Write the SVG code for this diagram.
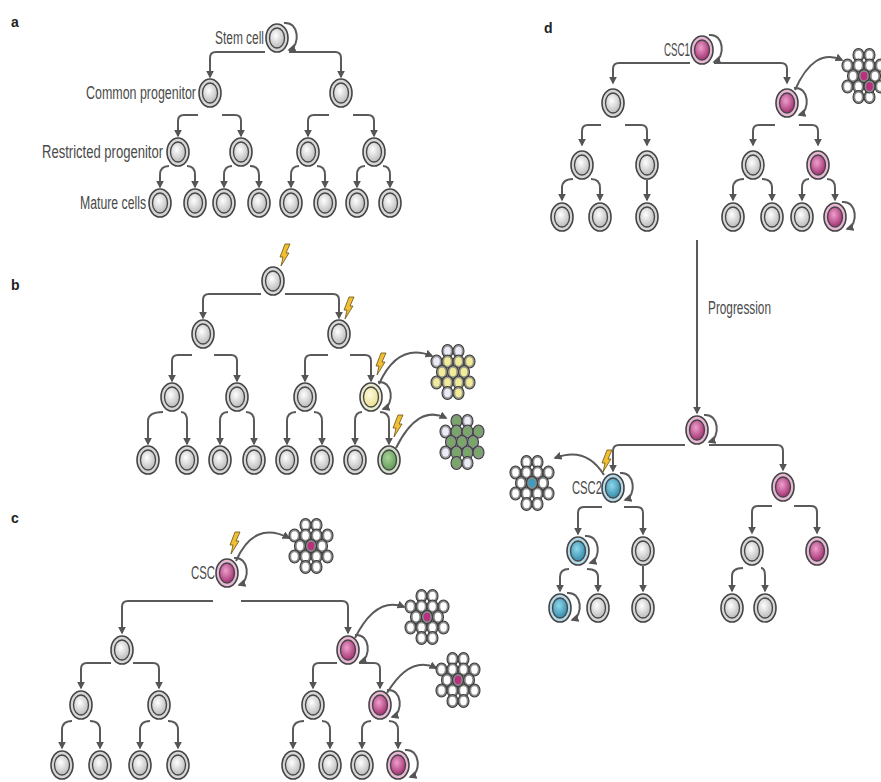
<svg xmlns="http://www.w3.org/2000/svg" xmlns:xlink="http://www.w3.org/1999/xlink" width="881" height="782" viewBox="0 0 881 782">
<style>
  .ln { fill: none; stroke: #5a5a5a; stroke-width: 2; }
  .lbl { font-family: "Liberation Sans Narrow", "Liberation Sans", Arial, sans-serif; font-size: 18px; fill: #4a4a4a; }
  .pl { font-family: "Liberation Sans", Arial, sans-serif; font-size: 14px; font-weight: bold; fill: #222; }
</style>
<defs>
  <marker id="ah" viewBox="0 0 10 10" refX="8" refY="5" markerWidth="8" markerHeight="8" markerUnits="userSpaceOnUse" orient="auto">
    <path d="M0,0 L10,5 L0,10 z" fill="#555"/>
  </marker>
  <radialGradient id="gGray" cx="0.42" cy="0.38" r="0.7"><stop offset="0" stop-color="#ffffff"/><stop offset="1" stop-color="#b3b3b3"/></radialGradient>
  <radialGradient id="gMag" cx="0.42" cy="0.38" r="0.7"><stop offset="0" stop-color="#ee9fcc"/><stop offset="1" stop-color="#9c2468"/></radialGradient>
  <radialGradient id="gBlue" cx="0.42" cy="0.38" r="0.7"><stop offset="0" stop-color="#8fd8ea"/><stop offset="1" stop-color="#2a83a6"/></radialGradient>
  <radialGradient id="gYel" cx="0.42" cy="0.38" r="0.7"><stop offset="0" stop-color="#fffbe0"/><stop offset="1" stop-color="#e6dc84"/></radialGradient>
  <radialGradient id="gGrn" cx="0.42" cy="0.38" r="0.7"><stop offset="0" stop-color="#a8d498"/><stop offset="1" stop-color="#5a944f"/></radialGradient>

  <!-- full-size cells -->
  <g id="cg"><ellipse rx="11" ry="14" fill="#d6d6d6" stroke="#454545" stroke-width="1.6"/><ellipse rx="7.5" ry="10" fill="url(#gGray)" stroke="#454545" stroke-width="1.3"/></g>
  <g id="cm"><ellipse rx="11" ry="14" fill="#e8b7d5" stroke="#454545" stroke-width="1.6"/><ellipse rx="7.5" ry="10" fill="url(#gMag)" stroke="#454545" stroke-width="1.3"/></g>
  <g id="cb"><ellipse rx="11" ry="14" fill="#b3d9e8" stroke="#454545" stroke-width="1.6"/><ellipse rx="7.5" ry="10" fill="url(#gBlue)" stroke="#454545" stroke-width="1.3"/></g>
  <g id="cy"><ellipse rx="11" ry="14" fill="#ecebcf" stroke="#454545" stroke-width="1.6"/><ellipse rx="7.5" ry="10" fill="url(#gYel)" stroke="#454545" stroke-width="1.3"/></g>
  <g id="cgr"><ellipse rx="11" ry="14" fill="#cfdfc8" stroke="#454545" stroke-width="1.6"/><ellipse rx="7.5" ry="10" fill="url(#gGrn)" stroke="#454545" stroke-width="1.3"/></g>

  <!-- small tumour-mass cells -->
  <g id="sw"><ellipse rx="5.5" ry="6.5" fill="#8a8a8a" stroke="#3c3c3c" stroke-width="1.1"/><ellipse rx="3.3" ry="4.2" fill="#ffffff"/></g>
  <g id="sm"><ellipse rx="5.5" ry="6.5" fill="#8a8a8a" stroke="#3c3c3c" stroke-width="1.1"/><ellipse rx="3.3" ry="4.2" fill="#b8307e"/></g>
  <g id="sb"><ellipse rx="5.5" ry="6.5" fill="#8a8a8a" stroke="#3c3c3c" stroke-width="1.1"/><ellipse rx="3.3" ry="4.2" fill="#3a9ec2"/></g>
  <g id="sy"><ellipse rx="5.5" ry="6.5" fill="#9a9a8a" stroke="#3c3c3c" stroke-width="1.1"/><ellipse rx="3.3" ry="4.2" fill="#f2eb9a"/></g>
  <g id="sl"><ellipse rx="5.5" ry="6.5" fill="#9a9a9a" stroke="#3c3c3c" stroke-width="1.1"/><ellipse rx="3.3" ry="4.2" fill="#ececf8"/></g>
  <g id="sg"><ellipse rx="5.5" ry="6.5" fill="#8a948a" stroke="#3c3c3c" stroke-width="1.1"/><ellipse rx="3.3" ry="4.2" fill="#76a866"/></g>

  <!-- grey tumour mass, centred on 0,0 -->
  <g id="mass">
    <use href="#sw" x="-5.5" y="-21"/><use href="#sw" x="5.5" y="-21"/>
    <use href="#sw" x="-16.5" y="-10.5"/><use href="#sw" x="-5.5" y="-10.5"/><use href="#sw" x="5.5" y="-10.5"/><use href="#sw" x="16.5" y="-10.5"/>
    <use href="#sw" x="-11" y="0"/><use href="#sw" x="0" y="0"/><use href="#sw" x="11" y="0"/>
    <use href="#sw" x="-16.5" y="10.5"/><use href="#sw" x="-5.5" y="10.5"/><use href="#sw" x="5.5" y="10.5"/><use href="#sw" x="16.5" y="10.5"/>
    <use href="#sw" x="-5.5" y="21"/><use href="#sw" x="5.5" y="21"/>
  </g>

  <!-- self-renewal loop and mutation bolt -->
  <path id="loop" d="M7,-15 C22,-17 24,8 12,12" fill="none" stroke="#5a5a5a" stroke-width="2" marker-end="url(#ah)"/>
  <polygon id="bolt" points="0,0 2,-9 -1,-9 4,-22 9,-22 5,-13 8,-13" fill="#f0bf34" stroke="#6b5214" stroke-width="0.8" stroke-linejoin="round"/>
</defs>

<rect width="881" height="782" fill="#ffffff"/>

<!-- panel letters and labels -->
<g id="labels">
  <text class="pl" x="11" y="27">a</text>
  <text class="pl" x="11" y="290">b</text>
  <text class="pl" x="11" y="523">c</text>
  <text class="pl" x="544" y="33">d</text>
  <text class="lbl" x="215" y="44" textLength="49" lengthAdjust="spacingAndGlyphs">Stem cell</text>
  <text class="lbl" x="86" y="99" textLength="110" lengthAdjust="spacingAndGlyphs">Common progenitor</text>
  <text class="lbl" x="42" y="158" textLength="121" lengthAdjust="spacingAndGlyphs">Restricted progenitor</text>
  <text class="lbl" x="80" y="209" textLength="66" lengthAdjust="spacingAndGlyphs">Mature cells</text>
  <text class="lbl" x="191" y="579" textLength="24" lengthAdjust="spacingAndGlyphs">CSC</text>
  <text class="lbl" x="664" y="56" textLength="26" lengthAdjust="spacingAndGlyphs">CSC1</text>
  <text class="lbl" x="572" y="494" textLength="30" lengthAdjust="spacingAndGlyphs">CSC2</text>
  <text class="lbl" x="708" y="314" textLength="63" lengthAdjust="spacingAndGlyphs">Progression</text>
</g>

<g id="connectors">
  <!-- a -->
  <path class="ln" marker-end="url(#ah)" d="M265,52 H216 Q210,52 210,58 V77"/>
  <path class="ln" marker-end="url(#ah)" d="M289,52 H335 Q341,52 341,58 V77"/>
  <path class="ln" marker-end="url(#ah)" d="M198,115 H184 Q178,115 178,121 V136"/>
  <path class="ln" marker-end="url(#ah)" d="M222,115 H235 Q241,115 241,121 V136"/>
  <path class="ln" marker-end="url(#ah)" d="M329,115 H314 Q308,115 308,121 V136"/>
  <path class="ln" marker-end="url(#ah)" d="M353,115 H368 Q374,115 374,121 V136"/>
  <path class="ln" marker-end="url(#ah)" d="M169,166 Q160,166 160,175 V187"/>
  <path class="ln" marker-end="url(#ah)" d="M187,166 Q195,166 195,175 V187"/>
  <path class="ln" marker-end="url(#ah)" d="M232,166 Q224,166 224,175 V187"/>
  <path class="ln" marker-end="url(#ah)" d="M250,166 Q259,166 259,175 V187"/>
  <path class="ln" marker-end="url(#ah)" d="M299,166 Q291,166 291,175 V187"/>
  <path class="ln" marker-end="url(#ah)" d="M317,166 Q325,166 325,175 V187"/>
  <path class="ln" marker-end="url(#ah)" d="M365,166 Q357,166 357,175 V187"/>
  <path class="ln" marker-end="url(#ah)" d="M383,166 Q390,166 390,175 V187"/>
  <use href="#loop" x="277" y="38"/>

  <!-- b -->
  <path class="ln" marker-end="url(#ah)" d="M261,294 H209 Q203,294 203,300 V318"/>
  <path class="ln" marker-end="url(#ah)" d="M285,294 H333 Q339,294 339,300 V318"/>
  <path class="ln" marker-end="url(#ah)" d="M192,355 H178 Q172,355 172,361 V381"/>
  <path class="ln" marker-end="url(#ah)" d="M214,355 H231 Q237,355 237,361 V381"/>
  <path class="ln" marker-end="url(#ah)" d="M328,355 H311 Q305,355 305,361 V381"/>
  <path class="ln" marker-end="url(#ah)" d="M350,355 H365 Q371,355 371,361 V381"/>
  <path class="ln" marker-end="url(#ah)" d="M163,412 Q148,412 148,421 V444"/>
  <path class="ln" marker-end="url(#ah)" d="M181,412 Q187,412 187,421 V444"/>
  <path class="ln" marker-end="url(#ah)" d="M228,412 Q220,412 220,421 V444"/>
  <path class="ln" marker-end="url(#ah)" d="M246,412 Q254,412 254,421 V444"/>
  <path class="ln" marker-end="url(#ah)" d="M296,412 Q287,412 287,421 V444"/>
  <path class="ln" marker-end="url(#ah)" d="M314,412 Q322,412 322,421 V444"/>
  <path class="ln" marker-end="url(#ah)" d="M362,412 Q355,412 355,421 V444"/>
  <path class="ln" marker-end="url(#ah)" d="M380,412 Q389,412 389,421 V444"/>
  <use href="#loop" x="371" y="397"/>
  <path class="ln" marker-end="url(#ah)" d="M379,384 Q398,342 432,356"/>
  <path class="ln" marker-end="url(#ah)" d="M396,448 Q418,404 446,418"/>

  <!-- c -->
  <path class="ln" marker-end="url(#ah)" d="M213,601 H128 Q122,601 122,607 V633"/>
  <path class="ln" marker-end="url(#ah)" d="M241,601 H342 Q348,601 348,607 V633"/>
  <path class="ln" marker-end="url(#ah)" d="M111,663 H87 Q81,663 81,669 V688"/>
  <path class="ln" marker-end="url(#ah)" d="M133,663 H153 Q159,663 159,669 V688"/>
  <path class="ln" marker-end="url(#ah)" d="M337,663 H319 Q313,663 313,669 V688"/>
  <path class="ln" marker-end="url(#ah)" d="M359,663 H374 Q380,663 380,669 V688"/>
  <path class="ln" marker-end="url(#ah)" d="M72,721 Q62,721 62,730 V748"/>
  <path class="ln" marker-end="url(#ah)" d="M90,721 Q100,721 100,730 V748"/>
  <path class="ln" marker-end="url(#ah)" d="M150,721 Q140,721 140,730 V748"/>
  <path class="ln" marker-end="url(#ah)" d="M168,721 Q178,721 178,730 V748"/>
  <path class="ln" marker-end="url(#ah)" d="M304,721 Q293,721 293,730 V748"/>
  <path class="ln" marker-end="url(#ah)" d="M322,721 Q330,721 330,730 V748"/>
  <path class="ln" marker-end="url(#ah)" d="M371,721 Q362,721 362,730 V748"/>
  <path class="ln" marker-end="url(#ah)" d="M389,721 Q398,721 398,730 V748"/>
  <use href="#loop" x="227" y="573"/>
  <use href="#loop" x="348" y="650"/>
  <use href="#loop" x="380" y="705"/>
  <use href="#loop" x="398" y="765"/>
  <path class="ln" marker-end="url(#ah)" d="M236,561 Q254,520 289,538"/>
  <path class="ln" marker-end="url(#ah)" d="M355,638 Q376,596 404,607"/>
  <path class="ln" marker-end="url(#ah)" d="M387,693 Q410,655 436,668"/>

  <!-- d, before progression -->
  <path class="ln" marker-end="url(#ah)" d="M690,63 H619 Q613,63 613,69 V83"/>
  <path class="ln" marker-end="url(#ah)" d="M714,63 H781 Q787,63 787,69 V83"/>
  <path class="ln" marker-end="url(#ah)" d="M601,125 H588 Q582,125 582,131 V145"/>
  <path class="ln" marker-end="url(#ah)" d="M625,125 H641 Q647,125 647,131 V145"/>
  <path class="ln" marker-end="url(#ah)" d="M775,125 H759 Q753,125 753,131 V145"/>
  <path class="ln" marker-end="url(#ah)" d="M799,125 H812 Q818,125 818,131 V145"/>
  <path class="ln" marker-end="url(#ah)" d="M573,179 Q562,179 562,188 V200"/>
  <path class="ln" marker-end="url(#ah)" d="M591,179 Q600,179 600,188 V200"/>
  <path class="ln" marker-end="url(#ah)" d="M647,180 V200"/>
  <path class="ln" marker-end="url(#ah)" d="M744,179 Q733,179 733,188 V200"/>
  <path class="ln" marker-end="url(#ah)" d="M762,179 Q772,179 772,188 V200"/>
  <path class="ln" marker-end="url(#ah)" d="M809,179 Q802,179 802,188 V200"/>
  <path class="ln" marker-end="url(#ah)" d="M827,179 Q835,179 835,188 V200"/>
  <use href="#loop" x="702" y="50"/>
  <use href="#loop" x="787" y="103"/>
  <use href="#loop" x="835" y="217"/>
  <path class="ln" marker-end="url(#ah)" d="M795,90 Q814,47 842,60"/>

  <!-- progression -->
  <path class="ln" marker-end="url(#ah)" d="M697,240 V413"/>

  <!-- d, after progression -->
  <path class="ln" marker-end="url(#ah)" d="M685,445 H619 Q613,445 613,451 V471"/>
  <path class="ln" marker-end="url(#ah)" d="M709,445 H777 Q783,445 783,451 V470"/>
  <path class="ln" marker-end="url(#ah)" d="M602,507 H584 Q578,507 578,513 V534"/>
  <path class="ln" marker-end="url(#ah)" d="M624,507 H637 Q643,507 643,513 V534"/>
  <path class="ln" marker-end="url(#ah)" d="M772,506 H758 Q752,506 752,512 V533"/>
  <path class="ln" marker-end="url(#ah)" d="M794,506 H811 Q817,506 817,512 V533"/>
  <path class="ln" marker-end="url(#ah)" d="M569,569 Q560,569 560,577 V591"/>
  <path class="ln" marker-end="url(#ah)" d="M587,569 Q598,569 598,577 V591"/>
  <path class="ln" marker-end="url(#ah)" d="M643,566 V591"/>
  <path class="ln" marker-end="url(#ah)" d="M743,568 Q732,568 732,576 V591"/>
  <path class="ln" marker-end="url(#ah)" d="M761,568 Q765,568 765,576 V591"/>
  <use href="#loop" x="697" y="430"/>
  <use href="#loop" x="613" y="488"/>
  <use href="#loop" x="578" y="551"/>
  <use href="#loop" x="560" y="608"/>
  <path class="ln" marker-end="url(#ah)" d="M604,475 Q586,446 555,458"/>
</g>

<!-- panel a: normal hierarchy -->
<g id="a-stem"><use href="#cg" x="277" y="38"/></g>
<g id="a-cp1"><use href="#cg" x="210" y="93"/></g>
<g id="a-cp2"><use href="#cg" x="341" y="93"/></g>
<g id="a-rp1"><use href="#cg" x="178" y="152"/></g>
<g id="a-rp2"><use href="#cg" x="241" y="152"/></g>
<g id="a-rp3"><use href="#cg" x="308" y="152"/></g>
<g id="a-rp4"><use href="#cg" x="374" y="152"/></g>
<g id="a-m1"><use href="#cg" x="160" y="203"/></g>
<g id="a-m2"><use href="#cg" x="195" y="203"/></g>
<g id="a-m3"><use href="#cg" x="224" y="203"/></g>
<g id="a-m4"><use href="#cg" x="259" y="203"/></g>
<g id="a-m5"><use href="#cg" x="291" y="203"/></g>
<g id="a-m6"><use href="#cg" x="325" y="203"/></g>
<g id="a-m7"><use href="#cg" x="357" y="203"/></g>
<g id="a-m8"><use href="#cg" x="390" y="203"/></g>

<!-- panel b: mutations in progenitors -->
<g id="b-top"><use href="#cg" x="273" y="281"/><use href="#bolt" x="281" y="266"/></g>
<g id="b-l2a"><use href="#cg" x="203" y="334"/></g>
<g id="b-l2b"><use href="#cg" x="339" y="334"/><use href="#bolt" x="345" y="319"/></g>
<g id="b-l3a"><use href="#cg" x="172" y="397"/></g>
<g id="b-l3b"><use href="#cg" x="237" y="397"/></g>
<g id="b-l3c"><use href="#cg" x="305" y="397"/></g>
<g id="b-yellow"><use href="#cy" x="371" y="397"/><use href="#bolt" x="377" y="375"/></g>
<g id="b-m1"><use href="#cg" x="148" y="460"/></g>
<g id="b-m2"><use href="#cg" x="187" y="460"/></g>
<g id="b-m3"><use href="#cg" x="220" y="460"/></g>
<g id="b-m4"><use href="#cg" x="254" y="460"/></g>
<g id="b-m5"><use href="#cg" x="287" y="460"/></g>
<g id="b-m6"><use href="#cg" x="322" y="460"/></g>
<g id="b-m7"><use href="#cg" x="355" y="460"/></g>
<g id="b-green"><use href="#cgr" x="389" y="460"/><use href="#bolt" x="394" y="437"/></g>
<g id="b-mass-yellow" transform="translate(453,372)">
  <use href="#sl" x="-5.5" y="-21"/><use href="#sl" x="5.5" y="-21"/>
  <use href="#sl" x="-16.5" y="-10.5"/><use href="#sy" x="-5.5" y="-10.5"/><use href="#sy" x="5.5" y="-10.5"/><use href="#sy" x="16.5" y="-10.5"/>
  <use href="#sy" x="-11" y="0"/><use href="#sy" x="0" y="0"/><use href="#sy" x="11" y="0"/>
  <use href="#sy" x="-16.5" y="10.5"/><use href="#sy" x="-5.5" y="10.5"/><use href="#sy" x="5.5" y="10.5"/><use href="#sy" x="16.5" y="10.5"/>
  <use href="#sl" x="-5.5" y="21"/><use href="#sy" x="5.5" y="21"/>
</g>
<g id="b-mass-green" transform="translate(462,442)">
  <use href="#sg" x="-5.5" y="-21"/><use href="#sl" x="5.5" y="-21"/>
  <use href="#sl" x="-16.5" y="-10.5"/><use href="#sg" x="-5.5" y="-10.5"/><use href="#sg" x="5.5" y="-10.5"/><use href="#sg" x="16.5" y="-10.5"/>
  <use href="#sg" x="-11" y="0"/><use href="#sg" x="0" y="0"/><use href="#sg" x="11" y="0"/>
  <use href="#sl" x="-16.5" y="10.5"/><use href="#sg" x="-5.5" y="10.5"/><use href="#sg" x="5.5" y="10.5"/><use href="#sg" x="16.5" y="10.5"/>
  <use href="#sg" x="-5.5" y="21"/><use href="#sl" x="5.5" y="21"/>
</g>

<!-- panel c: cancer stem cell -->
<g id="c-csc"><use href="#cm" x="227" y="573"/><use href="#bolt" x="231" y="554"/></g>
<g id="c-l2a"><use href="#cg" x="122" y="650"/></g>
<g id="c-l2b"><use href="#cm" x="348" y="650"/></g>
<g id="c-l3a"><use href="#cg" x="81" y="705"/></g>
<g id="c-l3b"><use href="#cg" x="159" y="705"/></g>
<g id="c-l3c"><use href="#cg" x="313" y="705"/></g>
<g id="c-l3d"><use href="#cm" x="380" y="705"/></g>
<g id="c-m1"><use href="#cg" x="62" y="765"/></g>
<g id="c-m2"><use href="#cg" x="100" y="765"/></g>
<g id="c-m3"><use href="#cg" x="140" y="765"/></g>
<g id="c-m4"><use href="#cg" x="178" y="765"/></g>
<g id="c-m5"><use href="#cg" x="293" y="765"/></g>
<g id="c-m6"><use href="#cg" x="330" y="765"/></g>
<g id="c-m7"><use href="#cg" x="362" y="765"/></g>
<g id="c-m8"><use href="#cm" x="398" y="765"/></g>
<g id="c-mass1" transform="translate(311,546)"><use href="#mass"/><use href="#sm"/></g>
<g id="c-mass2" transform="translate(427,617)"><use href="#mass"/><use href="#sm"/></g>
<g id="c-mass3" transform="translate(458,680)"><use href="#mass"/><use href="#sm"/></g>

<!-- panel d: clonal evolution -->
<g id="d-csc1"><use href="#cm" x="702" y="50"/></g>
<g id="d-l2a"><use href="#cg" x="613" y="103"/></g>
<g id="d-l2b"><use href="#cm" x="787" y="103"/></g>
<g id="d-l3a"><use href="#cg" x="582" y="165"/></g>
<g id="d-l3b"><use href="#cg" x="647" y="165"/></g>
<g id="d-l3c"><use href="#cg" x="753" y="165"/></g>
<g id="d-l3d"><use href="#cm" x="818" y="165"/></g>
<g id="d-m1"><use href="#cg" x="562" y="217"/></g>
<g id="d-m2"><use href="#cg" x="600" y="217"/></g>
<g id="d-m3"><use href="#cg" x="647" y="217"/></g>
<g id="d-m4"><use href="#cg" x="733" y="217"/></g>
<g id="d-m5"><use href="#cg" x="772" y="217"/></g>
<g id="d-m6"><use href="#cg" x="802" y="217"/></g>
<g id="d-m7"><use href="#cm" x="835" y="217"/></g>
<g id="d-mass1" transform="translate(864,76)"><use href="#mass"/><use href="#sm"/><use href="#sm" x="5.5" y="10.5"/></g>

<g id="d-top"><use href="#cm" x="697" y="430"/></g>
<g id="d-csc2"><use href="#cb" x="613" y="488"/><use href="#bolt" x="603" y="472"/></g>
<g id="d-r2"><use href="#cm" x="783" y="487"/></g>
<g id="d-b3"><use href="#cb" x="578" y="551"/></g>
<g id="d-g3"><use href="#cg" x="643" y="551"/></g>
<g id="d-r3a"><use href="#cg" x="752" y="551"/></g>
<g id="d-r3b"><use href="#cm" x="817" y="551"/></g>
<g id="d-b4"><use href="#cb" x="560" y="608"/></g>
<g id="d-g4a"><use href="#cg" x="598" y="608"/></g>
<g id="d-g4b"><use href="#cg" x="643" y="608"/></g>
<g id="d-g4c"><use href="#cg" x="732" y="608"/></g>
<g id="d-g4d"><use href="#cg" x="765" y="608"/></g>
<g id="d-mass2" transform="translate(532,483)"><use href="#mass"/><use href="#sb"/></g>
</svg>
